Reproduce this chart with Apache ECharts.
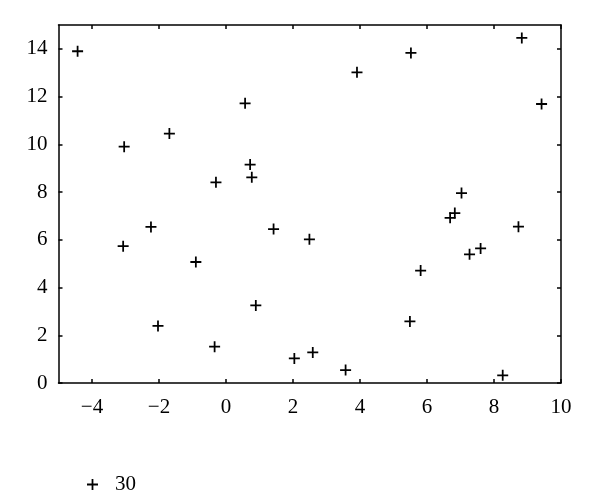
<!DOCTYPE html>
<html>
<head>
<meta charset="utf-8">
<script src="https://cdn.jsdelivr.net/npm/echarts@6/dist/echarts.min.js"></script>
<style>html,body{margin:0;padding:0;background:#fff;}#c{width:600px;height:503px;}</style>
</head>
<body>
<div id="c"></div>
<script>
const seriesName = '30';
const xValues = [-4.43, -3.04, -1.69, 0.57, -0.30, 0.72, 0.77,
  3.91, 5.52, 8.83, 9.42, 7.03,
  -3.07, -2.24, -0.90, 1.42, 0.89, -2.03, -0.34, 2.04,
  2.49, 2.59, 3.57, 5.49, 5.81, 6.69, 6.83, 7.27, 7.60, 8.73, 8.26];
const yValues = [13.90, 9.90, 10.45, 11.72, 8.41, 9.15, 8.62,
  13.02, 13.83, 14.46, 11.69, 7.96,
  5.73, 6.54, 5.07, 6.45, 3.25, 2.39, 1.52, 1.03,
  6.02, 1.28, 0.54, 2.58, 4.71, 6.92, 7.12, 5.39, 5.64, 6.55, 0.32];
const xTicks = [-4, -2, 0, 2, 4, 6, 8, 10];
const yTicks = [0, 2, 4, 6, 8, 10, 12, 14];

const FONT = 'Liberation Serif';
const plus = 'path://M42,0H58V42H100V58H58V100H42V58H0V42H42Z';
const fmt = v => String(v).replace('-', '\u2212');

const axisLine = { show: true, onZero: false, lineStyle: { color: '#000', width: 1.5 } };
const tick = (vals) => ({ show: true, inside: true, length: 4, customValues: vals, lineStyle: { color: '#000', width: 1.5 } });

const chart = echarts.init(document.getElementById('c'));
chart.setOption({
  animation: false,
  backgroundColor: '#fff',
  grid: { left: 58.5, right: 39, top: 25, bottom: 120, containLabel: false },
  legend: {
    left: 82, top: 469, itemWidth: 11, itemHeight: 11,
    icon: plus,
    data: [seriesName],
    textStyle: { fontFamily: FONT, fontSize: 21, color: '#000', padding: [0, 0, 0, 12] }
  },
  xAxis: [{
    type: 'value', min: -5, max: 10, position: 'bottom',
    axisLine, axisTick: tick(xTicks), splitLine: { show: false },
    axisLabel: { customValues: xTicks, formatter: fmt, fontFamily: FONT, fontSize: 21, color: '#000', margin: 14 }
  }, {
    type: 'value', min: -5, max: 10, position: 'top',
    axisLine, axisTick: tick(xTicks), splitLine: { show: false },
    axisLabel: { show: false }
  }],
  yAxis: [{
    type: 'value', min: 0, max: 15, position: 'left',
    axisLine, axisTick: tick(yTicks), splitLine: { show: false },
    axisLabel: { customValues: yTicks, formatter: fmt, fontFamily: FONT, fontSize: 21, color: '#000', margin: 11 }
  }, {
    type: 'value', min: 0, max: 15, position: 'right',
    axisLine, axisTick: tick(yTicks), splitLine: { show: false },
    axisLabel: { show: false }
  }],
  series: [{
    name: seriesName,
    type: 'scatter',
    symbol: plus,
    symbolSize: 11,
    itemStyle: { color: '#000', opacity: 1 },
    data: xValues.map((x, i) => [x, yValues[i]])
  }]
});
</script>
</body>
</html>
